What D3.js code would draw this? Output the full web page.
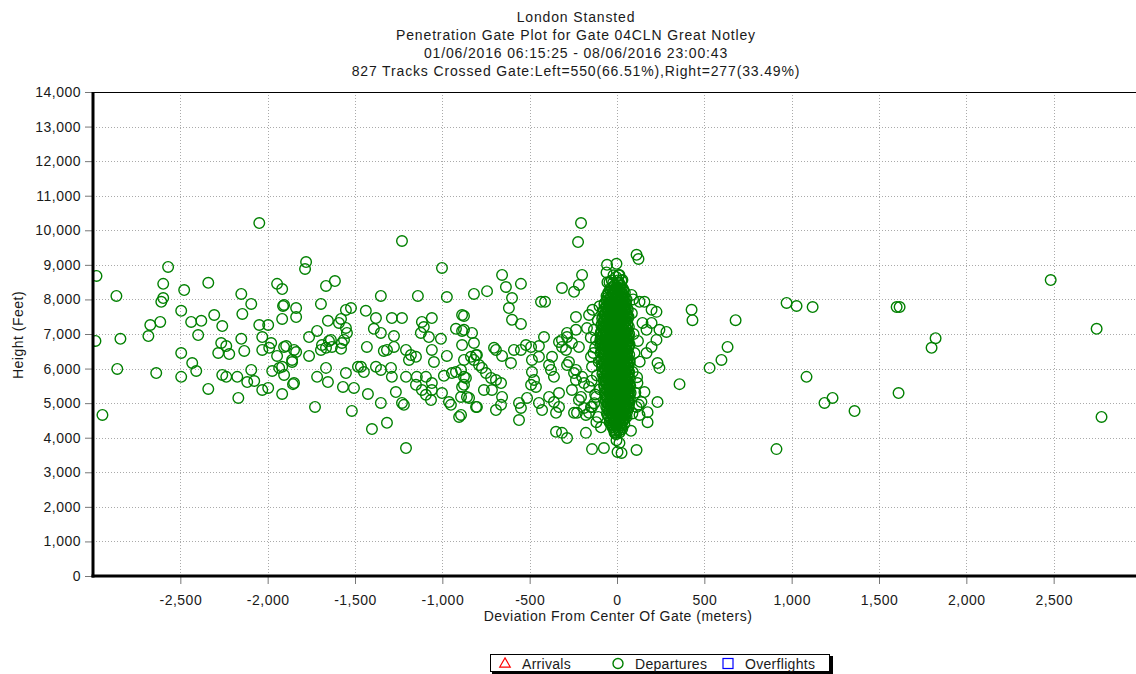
<!DOCTYPE html>
<html><head><meta charset="utf-8">
<script src="https://cdn.jsdelivr.net/npm/d3@7"></script>
<style>
body{margin:0;background:#fff;}
svg{display:block;font-family:"Liberation Sans",Arial,sans-serif;}
</style>
</head><body>
<svg id="chart" width="1136" height="674"></svg>
<script>
// ---------------- DATA ----------------
const titleLines = [
  "London Stansted",
  "Penetration Gate Plot for Gate 04CLN Great Notley",
  "01/06/2016 06:15:25 - 08/06/2016 23:00:43",
  "827 Tracks Crossed Gate:Left=550(66.51%),Right=277(33.49%)"
];
const xLabel = "Deviation From Center Of Gate (meters)";
const yLabel = "Height (Feet)";
const xDomain = [-3000, 3000];
const yDomain = [0, 14000];
const xTickValues = [-2500, -2000, -1500, -1000, -500, 0, 500, 1000, 1500, 2000, 2500];
const yTickValues = [0, 1000, 2000, 3000, 4000, 5000, 6000, 7000, 8000, 9000, 10000, 11000, 12000, 13000, 14000];
const legendLabels = ["Arrivals", "Departures", "Overflights"];

const arrivals = [];
const overflights = [];

// departures: individually visible points [deviation m, height ft]
const departuresSpread = [
[-2980,8680],[-2570,8940],[-2866,8100],[-2598,8450],[-2598,8040],[-2609,7930],[-2478,8270],[-2340,8480],[-2495,7670],[-2672,7260],[-2615,7350],[-2683,6940],[-2986,6800],[-2843,6860],[-2438,7350],[-2380,7380],[-2306,7550],[-2260,7230],[-2398,6970],[-2151,8160],[-2094,7870],[-2145,7580],[-1946,8450],[-1917,8300],[-1912,7810],[-1917,7435],[-2048,7260],[-1997,7260],[-2031,6910],[-2151,6860],[-2266,6740],[-2237,6650],[-2283,6450],[-2220,6420],[-2134,6510],[-1980,6740],[-1991,6600],[-2031,6540],[-1946,6365],[-1894,6650],[-2495,6450],[-2432,6160],[-2409,5930],[-2861,5990],[-2638,5870],[-2495,5760],[-2260,5815],[-2237,5760],[-2174,5760],[-2094,5960],[-2117,5610],[-2077,5640],[-2031,5380],[-1997,5440],[-1974,5930],[-1917,6050],[-1906,5815],[-1917,5265],[-2340,5410],[-2168,5150],[-2946,4660],[-2048,10210],
[-1780,9080],[-1786,8880],[-1666,8390],[-1615,8530],[-1695,7870],[-1352,8100],[-1438,7670],[-1380,7460],[-1392,7150],[-1352,7030],[-1432,6625],[-1335,6510],[-1552,7695],[-1523,7750],[-1580,7435],[-1592,7320],[-1655,7380],[-1552,7175],[-1546,7030],[-1575,6740],[-1580,6570],[-1638,6830],[-1689,6680],[-1666,6600],[-1717,7090],[-1763,6910],[-1666,6020],[-1717,5760],[-1655,5610],[-1552,5870],[-1569,5470],[-1506,5440],[-1483,6050],[-1449,5900],[-1380,6050],[-1352,5960],[-1426,5265],[-1352,5005],[-1729,4890],[-1518,4775],[-1403,4250],[-1317,4430],[-1763,6365],[-1837,6480],[-1860,6190],[-1855,5550],
[-1002,8910],[-1906,7840],[-1837,7750],[-1837,7490],[-1140,8100],[-974,8070],[-819,8160],[-1289,7460],[-1231,7460],[-1117,7350],[-1060,7460],[-887,7550],[-1563,6830],[-1277,6940],[-1106,7200],[-1123,7030],[-1077,6910],[-922,7150],[-887,7090],[-830,7030],[-1008,6860],[-887,6680],[-819,6740],[-1906,6625],[-1849,6540],[-1860,6250],[-1695,6540],[-1649,6800],[-1632,6625],[-1317,6540],[-1277,6625],[-1208,6540],[-1180,6390],[-1151,6340],[-1191,6250],[-1060,6540],[-1048,6190],[-974,6365],[-876,6250],[-836,6340],[-807,6390],[-1934,6020],[-1849,5580],[-1466,6050],[-1294,6020],[-1289,5760],[-1208,5760],[-1146,5760],[-1151,5530],[-1094,5760],[-1060,5580],[-1117,5380],[-991,5790],[-945,5870],[-922,5900],[-893,5960],[-876,5530],[-865,5730],[-1266,5320],[-1231,5005],[-1220,4950],[-1094,5240],[-1065,5090],[-1060,5380],[-1002,5290],[-962,5030],[-951,4950],[-893,5180],[-859,5180],[-807,4890],[-904,4600],[-1208,3700],[-1231,9690],
[-57,9000],[-60,8780],[-55,8500],[-658,8710],[-636,8360],[-550,8450],[-744,8240],[-601,8040],[-619,7750],[-601,7410],[-550,7290],[-435,7930],[-412,7930],[-315,8330],[-246,8220],[-218,8420],[-200,8710],[-876,7520],[-876,7120],[-235,7490],[-172,7170],[-235,7120],[-704,6600],[-658,6365],[-607,6160],[-693,6540],[-590,6540],[-550,6540],[-521,6680],[-492,6625],[-447,6650],[-418,6910],[-487,6250],[-447,6340],[-372,6340],[-332,6770],[-315,6625],[-286,6910],[-802,6390],[-819,6250],[-790,6100],[-773,6020],[-750,5870],[-721,5730],[-693,5670],[-664,5580],[-876,5760],[-887,5470],[-847,5150],[-802,4890],[-893,4660],[-762,5380],[-716,5380],[-658,5180],[-693,4800],[-664,4950],[-487,5900],[-475,5670],[-492,5530],[-464,5470],[-561,5005],[-550,4860],[-561,4510],[-515,5150],[-447,5005],[-429,4800],[-389,5180],[-361,5030],[-332,4890],[-349,4720],[-332,5290],[-389,6100],[-361,5760],[-378,5960],[-286,6100],[-235,5960],[-200,5760],[-235,5670],[-258,5380],[-206,5180],[-229,4720],[-178,4660],[-149,4890],[-120,5180],[-349,4170],[-286,3990],[-178,4140],[-143,3670],[-75,3700],
[-206,10210],[-223,9660],[112,9290],[123,9170],[-3,9030],[14,8710],[-43,8500],[3,8480],[31,8560],[83,8130],[129,7930],[157,7930],[198,7700],[226,7640],[146,7320],[169,7120],[198,7320],[243,7120],[283,7060],[226,6830],[198,6625],[169,6450],[232,6160],[243,6020],[117,5580],[157,5320],[140,5030],[175,4740],[175,4450],[112,4890],[129,4660],[232,5030],[-160,7550],[-315,6830],[-286,7030],[-258,6740],[-218,6625],[-292,6540],[-275,6190],[-246,5870],[-189,5580],[-160,5470],[-218,5090],[-189,4860],[-246,4720],[-160,4720],[-143,4890],[-315,4140],[3,3590],[26,3560],[112,3645],[-14,4140],[-3,3930],[14,3850],[-132,7120],[-120,6830],[-149,6340],[-143,6050],
[-100,7800],[-110,7400],[-95,7000],[-125,6600],[-105,6200],[-115,5800],[-98,5400],[-130,5000],[-108,4600],[-92,4300],[-140,7700],[-150,6900],[-135,6450],[-145,5650],[-125,5250],[-118,4450],
[85,7600],[95,7000],[100,6450],[90,5900],[105,5300],[88,4700],[120,6800],[130,6200],[115,5750],[125,4950],[92,8000],[80,4200],
[427,7700],[432,7400],[679,7400],[633,6625],[598,6250],[530,6020],[358,5550],[971,7900],[1028,7810],[1120,7780],[1085,5760],[1188,5005],[1234,5150],[1360,4770],[913,3670],[1601,7780],[1618,7780],[1824,6880],[1801,6600],[1612,5290],[2483,8560],[2746,7150],[2774,4600]
];

// departures in the dense core near the gate centre: [height ft, [deviations m]]
const departuresCoreRows = [
[8700,[-20,10]],[8650,[-5]],
[8550,[-30,5,25]],[8480,[-22,12]],
[8400,[-15,20]],[8350,[-28,2,28]],
[8300,[-40,-10,15,35]],[8250,[-35,-12,12,38]],
[8200,[-50,-25,0,25,45]],[8150,[-48,-20,8,32]],
[8100,[-60,-35,-5,20,40]],[8050,[-55,-28,-2,22,45]],
[8000,[-45,-15,10,30,55]],[7950,[-58,-32,-8,18,40]],
[7900,[-70,-40,-20,5,28,50]],[7850,[-72,-45,-18,8,32,52]],
[7800,[-60,-30,-8,18,42]],[7750,[-68,-40,-12,12,36,58]],
[7700,[-75,-50,-22,0,24,48,62]],[7650,[-80,-52,-25,-2,22,45]],
[7600,[-65,-38,-12,12,35,55]],[7550,[-72,-45,-18,8,32,58]],
[7500,[-80,-55,-28,-2,22,45,66]],[7450,[-85,-58,-32,-8,18,40,62]],
[7400,[-70,-45,-18,8,30,52]],[7350,[-78,-50,-22,2,26,48]],
[7300,[-85,-60,-33,-10,15,38,60]],[7250,[-90,-64,-38,-12,12,36,58]],
[7200,[-75,-48,-20,4,27,50,68]],[7150,[-80,-54,-26,-2,28,52]],
[7100,[-88,-62,-35,-8,18,42,63]],[7050,[-92,-66,-40,-14,10,34,56]],
[7000,[-78,-52,-25,0,24,47,70]],[6950,[-84,-58,-30,-5,20,44,64]],
[6900,[-90,-65,-38,-12,12,36,58]],[6850,[-95,-70,-44,-18,6,30,54]],
[6800,[-80,-55,-28,-3,21,45,66]],[6750,[-86,-60,-34,-8,16,40,62]],
[6700,[-92,-68,-42,-15,10,33,56,72]],[6650,[-96,-72,-46,-20,4,28,50,68]],
[6600,[-82,-57,-30,-5,20,44,65]],[6550,[-76,-50,-22,2,28,52]],
[6500,[-88,-63,-37,-10,14,38,60]],[6450,[-94,-70,-44,-16,8,32,56]],
[6400,[-78,-52,-25,2,26,50,70]],[6350,[-72,-46,-18,8,32,56]],
[6300,[-86,-60,-33,-7,18,42,64]],[6250,[-90,-64,-38,-12,14,38,60]],
[6200,[-76,-48,-20,6,30,54,73]],[6150,[-70,-42,-14,12,36,60]],
[6100,[-82,-56,-29,-2,22,46,67]],[6050,[-86,-60,-32,-6,18,44,64]],
[6000,[-72,-45,-17,9,33,57]],[5950,[-66,-38,-10,16,40,64]],
[5900,[-80,-53,-26,0,25,49,70]],[5850,[-84,-58,-30,-4,20,44,66]],
[5800,[-70,-43,-15,11,36,60]],[5750,[-62,-36,-8,18,44,68]],
[5700,[-78,-50,-23,3,28,52,74]],[5650,[-74,-46,-18,8,34,58]],
[5600,[-66,-40,-12,14,39,63]],[5550,[-60,-32,-6,20,46,70]],
[5500,[-74,-47,-20,6,31,55,76]],[5450,[-70,-42,-14,12,38,62]],
[5400,[-63,-36,-9,17,42,66]],[5350,[-56,-28,-2,24,50,72]],
[5300,[-70,-44,-16,10,35,59,78]],[5250,[-66,-38,-10,16,42,64]],
[5200,[-60,-33,-6,20,45,68]],[5150,[-54,-26,0,26,52,74]],
[5100,[-67,-40,-13,13,38,62]],[5050,[-62,-34,-8,18,44,66]],
[5000,[-56,-29,-2,24,48,70]],[4950,[-48,-22,4,30,56]],
[4900,[-62,-36,-10,16,41,64]],[4850,[-56,-30,-4,22,46,66]],
[4800,[-52,-25,1,27,52]],[4750,[-44,-18,8,34,58]],
[4700,[-58,-32,-6,20,45]],[4650,[-52,-26,0,26,48]],
[4600,[-45,-18,8,33,55]],[4550,[-34,-6,20,44]],
[4500,[-40,-13,13,37]],[4450,[-42,-18,6,30]],
[4400,[-33,-6,19,42]],[4350,[-28,-4,22]],
[4300,[-25,2,27]],[4250,[-20,6,30]],
[4200,[-15,12]],[4150,[-10,15]],
[4100,[-5]]
];

// ---------------- CHART ----------------
const svg = d3.select("#chart");
const W = 1136, H = 674;
const plot = {left: 93, right: 1141, top: 92, bottom: 576};
const x = d3.scaleLinear().domain(xDomain).range([plot.left, plot.right]);
const y = d3.scaleLinear().domain(yDomain).range([plot.bottom, plot.top]);
const fmt = v => d3.format(",")(v).replace("\u2212", "-");
const textColor = "#1a1a1a";
const fontSize = "14px";
const green = "#008000";

svg.append("rect").attr("width", W).attr("height", H).attr("fill", "#fff");

// title
svg.append("g").selectAll("text").data(titleLines).join("text")
  .attr("x", 576).attr("y", (d, i) => 22 + i * 18)
  .attr("text-anchor", "middle").attr("font-size", fontSize)
  .attr("letter-spacing", "0.85px")
  .attr("fill", textColor).text(d => d);

// grid
const grid = svg.append("g").attr("stroke", "#aaaaaa").attr("stroke-dasharray", "1,2").attr("stroke-width", 1);
grid.selectAll("line.v").data(xTickValues).join("line").attr("class", "v")
  .attr("x1", d => Math.round(x(d)) + 0.5).attr("x2", d => Math.round(x(d)) + 0.5)
  .attr("y1", plot.top).attr("y2", plot.bottom);
grid.selectAll("line.h").data(yTickValues.filter(v => v > 0 && v < 14000)).join("line").attr("class", "h")
  .attr("y1", d => Math.round(y(d)) + 0.5).attr("y2", d => Math.round(y(d)) + 0.5)
  .attr("x1", plot.left).attr("x2", W);

// clip
svg.append("clipPath").attr("id", "clip").append("rect")
  .attr("x", plot.left).attr("y", plot.top).attr("width", plot.right - plot.left).attr("height", plot.bottom - plot.top);

const departures = departuresSpread.concat(
  departuresCoreRows.flatMap(([h, xs]) => xs.map(dx => [dx, h]))
);

svg.append("g").attr("clip-path", "url(#clip)")
  .selectAll("circle").data(departures).join("circle")
  .attr("cx", d => x(d[0])).attr("cy", d => y(d[1])).attr("r", 5.3)
  .attr("fill", "none").attr("stroke", green).attr("stroke-width", 1.4);

// frame top
svg.append("line").attr("x1", plot.left).attr("x2", W).attr("y1", plot.top + 0.5).attr("y2", plot.top + 0.5)
  .attr("stroke", "#000").attr("stroke-width", 1);

// axes
const yMinor = d3.range(0, 14001, 200);
const xMinor = d3.range(-2875, 3000, 125);
const gy = svg.append("g").attr("transform", `translate(${plot.left - 1},0)`);
gy.call(d3.axisLeft(y).tickValues(yMinor).tickSize(4).tickFormat(""));
gy.call(d3.axisLeft(y).tickValues(yTickValues).tickSize(7).tickFormat(fmt));
gy.selectAll(".domain").remove();
gy.selectAll("line").attr("stroke", "#777");
gy.selectAll("text").attr("font-size", fontSize).attr("fill", textColor).attr("font-family", "Liberation Sans, Arial, sans-serif").attr("letter-spacing", "0.5px").attr("dx", "-1");

const gx = svg.append("g").attr("transform", `translate(0,${plot.bottom + 1})`);
gx.call(d3.axisBottom(x).tickValues(xMinor).tickSize(5).tickFormat(""));
gx.call(d3.axisBottom(x).tickValues(xTickValues).tickSize(7).tickFormat(fmt));
gx.selectAll(".domain").remove();
gx.selectAll("line").attr("stroke", "#777");
gx.selectAll("text").attr("font-size", fontSize).attr("fill", textColor).attr("font-family", "Liberation Sans, Arial, sans-serif").attr("letter-spacing", "0.5px").attr("dy", "1.25em");

// thick axis lines
svg.append("line").attr("x1", plot.left).attr("x2", plot.left).attr("y1", plot.top).attr("y2", plot.bottom + 1.5)
  .attr("stroke", "#000").attr("stroke-width", 3);
svg.append("line").attr("x1", plot.left - 1.5).attr("x2", W).attr("y1", plot.bottom).attr("y2", plot.bottom)
  .attr("stroke", "#000").attr("stroke-width", 3);

// axis titles
svg.append("text").attr("x", 618).attr("y", 621).attr("text-anchor", "middle")
  .attr("font-size", fontSize).attr("letter-spacing", "0.5px").attr("fill", textColor).text(xLabel);
svg.append("text").attr("transform", "translate(23,335) rotate(-90)").attr("text-anchor", "middle")
  .attr("font-size", fontSize).attr("letter-spacing", "0.5px").attr("fill", textColor).text(yLabel);

// legend
const lg = svg.append("g");
lg.append("line").attr("x1", 492).attr("x2", 833).attr("y1", 672.5).attr("y2", 672.5).attr("stroke", "#000").attr("stroke-width", 3);
lg.append("line").attr("x1", 831.5).attr("x2", 831.5).attr("y1", 656).attr("y2", 674).attr("stroke", "#000").attr("stroke-width", 3);
lg.append("rect").attr("x", 490.5).attr("y", 654.5).attr("width", 339).attr("height", 17)
  .attr("fill", "#fff").attr("stroke", "#000");
const legendPos = [{mx: 505, tx: 522, color: "#ff0000", shape: "tri"},
                   {mx: 618, tx: 635, color: green, shape: "circ"},
                   {mx: 728, tx: 745, color: "#0000ff", shape: "sq"}];
legendLabels.forEach((lab, i) => {
  const p = legendPos[i];
  if (p.shape === "tri") {
    lg.append("path").attr("d", d3.symbol(d3.symbolTriangle, 48)()).attr("transform", `translate(${p.mx},664)`)
      .attr("fill", "none").attr("stroke", p.color).attr("stroke-width", 1.2);
  } else if (p.shape === "circ") {
    lg.append("circle").attr("cx", p.mx).attr("cy", 663.5).attr("r", 5).attr("fill", "none").attr("stroke", p.color).attr("stroke-width", 1.4);
  } else {
    lg.append("rect").attr("x", p.mx - 5).attr("y", 658.5).attr("width", 10).attr("height", 10).attr("fill", "none").attr("stroke", p.color).attr("stroke-width", 1.2);
  }
  lg.append("text").attr("x", p.tx).attr("y", 669).attr("font-size", fontSize).attr("letter-spacing", "0.3px")
    .attr("fill", textColor).text(lab);
});
</script>
</body></html>
